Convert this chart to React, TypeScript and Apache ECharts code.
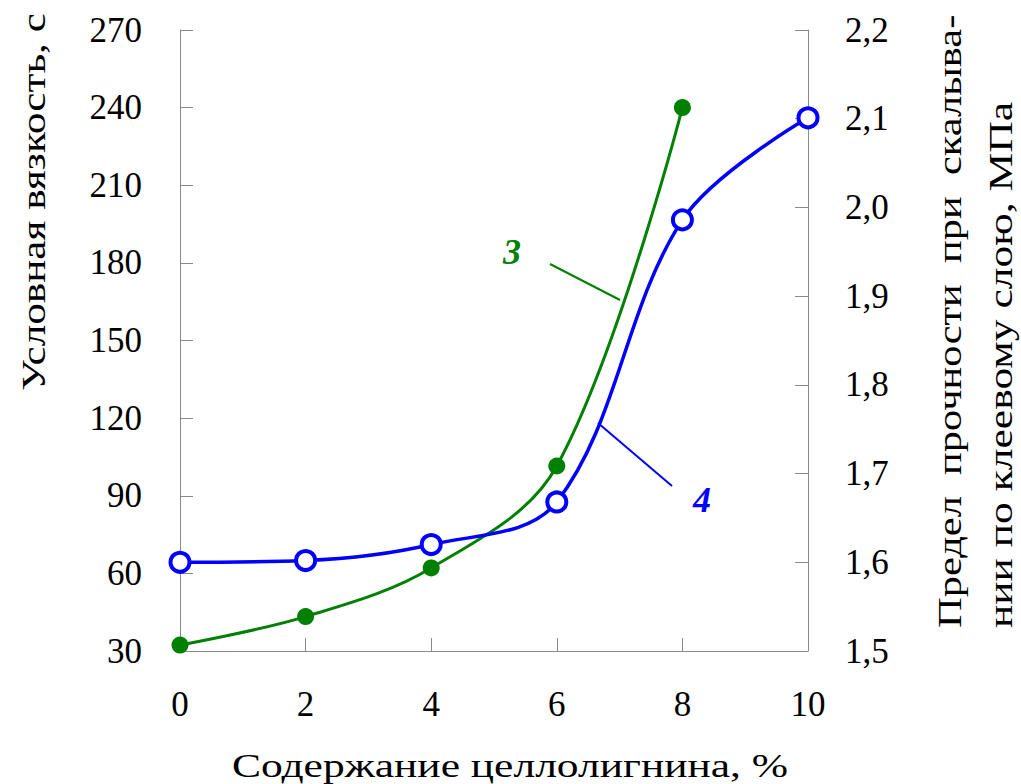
import React, { useEffect, useRef } from "react";
import * as echarts from "echarts";

const xValues = [0, 2, 4, 6, 8, 10];
const viscosity = [32.3, 43.3, 62.1, 101.5, 240.0]; // curve 3, left axis (s)
const strength = [1.600, 1.602, 1.620, 1.668, 1.986, 2.101]; // curve 4, right axis (MPa)
const leftTitle = "Условная вязкость, с";
const rightTitle1 = "Предел  прочности  при  скалыва-";
const rightTitle2 = "нии по клеевому слою, МПа";
const bottomTitle = "Содержание целлолигнина, %";

const FONT = "Liberation Serif";
const AXIS_COLOR = "#8a8a8a";

export default function App() {
  const ref = useRef<HTMLDivElement>(null);
  useEffect(() => {
    if (!ref.current) return;
    const chart = echarts.init(ref.current, null, { renderer: "svg" });
    const labelStyle = { fontFamily: FONT, fontSize: 35, color: "#000" };
    const titleStyle = (text: string, align: string) => ({
      text,
      fontFamily: FONT,
      fontSize: 34,
      fill: "#000",
      align,
      verticalAlign: "middle",
    });
    chart.setOption({
      animation: false,
      backgroundColor: "#fff",
      grid: { left: 180, right: 213, top: 30, bottom: 133 },
      xAxis: {
        type: "value",
        min: 0,
        max: 10,
        interval: 2,
        axisLine: { show: true, lineStyle: { color: AXIS_COLOR, width: 1 } },
        axisTick: { show: true, inside: true, length: 13, lineStyle: { color: AXIS_COLOR } },
        splitLine: { show: false },
        axisLabel: { ...labelStyle, margin: 36 },
      },
      yAxis: [
        {
          type: "value",
          position: "left",
          min: 30,
          max: 270,
          interval: 30,
          axisLine: { show: true, lineStyle: { color: AXIS_COLOR, width: 1 } },
          axisTick: { show: true, inside: true, length: 13, lineStyle: { color: AXIS_COLOR } },
          splitLine: { show: false },
          axisLabel: { ...labelStyle, margin: 38 },
        },
        {
          type: "value",
          position: "right",
          min: 1.5,
          max: 2.2,
          interval: 0.1,
          axisLine: { show: true, lineStyle: { color: AXIS_COLOR, width: 1 } },
          axisTick: { show: true, inside: true, length: 13, lineStyle: { color: AXIS_COLOR } },
          splitLine: { show: false },
          axisLabel: {
            ...labelStyle,
            margin: 37,
            formatter: (v: number) => v.toFixed(1).replace(".", ","),
          },
        },
      ],
      series: [
        {
          type: "line",
          yAxisIndex: 0,
          data: viscosity.map((v, i) => [xValues[i], v]),
          smooth: 0.35,
          symbol: "circle",
          symbolSize: 17,
          itemStyle: { color: "#008000" },
          lineStyle: { color: "#008000", width: 3 },
          z: 2,
        },
        {
          type: "line",
          yAxisIndex: 1,
          data: strength.map((v, i) => [xValues[i], v]),
          smooth: 0.35,
          symbol: "circle",
          symbolSize: 19,
          itemStyle: { color: "#fff", borderColor: "#0000ff", borderWidth: 4 },
          lineStyle: { color: "#0000ff", width: 3.5 },
          z: 3,
        },
      ],
      graphic: [
        {
          type: "line",
          shape: { x1: 550, y1: 264, x2: 620, y2: 300 },
          style: { stroke: "#008000", lineWidth: 2 },
        },
        {
          type: "text",
          x: 512,
          y: 252,
          style: {
            text: "3",
            fontFamily: FONT,
            fontSize: 36,
            fontStyle: "italic",
            fontWeight: "bold",
            fill: "#008000",
            align: "center",
            verticalAlign: "middle",
          },
        },
        {
          type: "line",
          shape: { x1: 598, y1: 423, x2: 672, y2: 486 },
          style: { stroke: "#0000ff", lineWidth: 2 },
        },
        {
          type: "text",
          x: 702,
          y: 500,
          style: {
            text: "4",
            fontFamily: FONT,
            fontSize: 36,
            fontStyle: "italic",
            fontWeight: "bold",
            fill: "#0000ff",
            align: "center",
            verticalAlign: "middle",
          },
        },
        {
          type: "text",
          x: 33,
          y: 202,
          rotation: Math.PI / 2,
          scaleX: 1.27,
          style: titleStyle(leftTitle, "center"),
        },
        {
          type: "text",
          x: 950,
          y: 628,
          rotation: Math.PI / 2,
          scaleX: 1.25,
          style: titleStyle(rightTitle1, "left"),
        },
        {
          type: "text",
          x: 1000,
          y: 628,
          rotation: Math.PI / 2,
          scaleX: 1.28,
          style: titleStyle(rightTitle2, "left"),
        },
        {
          type: "text",
          x: 510,
          y: 765,
          scaleX: 1.28,
          style: titleStyle(bottomTitle, "center"),
        },
      ],
    });
    return () => chart.dispose();
  }, []);
  return (
    <div
      ref={ref}
      style={{ position: "fixed", left: 0, top: 0, width: 1021, height: 784, background: "#fff" }}
    />
  );
}
